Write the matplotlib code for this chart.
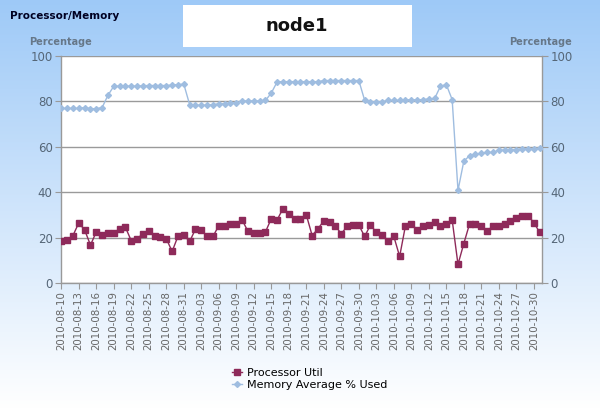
import numpy as np
import pandas as pd
import matplotlib
matplotlib.use("Agg")
import matplotlib.pyplot as plt
from matplotlib.patches import Rectangle
from matplotlib.lines import Line2D

dates = pd.date_range("2010-08-10", "2010-10-31", freq="D")

processor_util = [
    18.3, 19.0, 20.9, 26.5, 23.4, 16.7, 22.5, 21.2, 22.1, 22.1,
    23.9, 24.5, 18.6, 19.5, 21.7, 22.8, 20.9, 20.1, 19.5, 13.9,
    20.6, 21.2, 18.3, 23.7, 23.4, 20.5, 20.5, 25.3, 24.9, 25.8,
    25.8, 27.8, 22.7, 22.0, 22.0, 22.5, 28.4, 27.8, 32.8, 30.5,
    28.4, 28.4, 30.0, 20.9, 23.9, 27.4, 26.9, 24.9, 21.8, 24.9,
    25.5, 25.5, 20.5, 25.6, 22.3, 21.2, 18.6, 20.5, 11.7, 25.3,
    26.1, 23.4, 24.9, 25.5, 26.8, 24.9, 25.8, 27.8, 8.2, 17.4,
    26.2, 26.2, 25.3, 22.7, 25.3, 25.3, 26.1, 27.5, 28.6, 29.7,
    29.7, 26.6, 22.3,
]

memory_used = [
    76.9, 76.9, 76.9, 76.9, 77.3, 76.8, 76.8, 77.3, 82.7, 86.7,
    86.7, 86.7, 86.7, 86.7, 86.9, 87.0, 87.0, 87.0, 87.0, 87.2,
    87.4, 87.6, 78.6, 78.3, 78.3, 78.3, 78.6, 78.9, 79.0, 79.2,
    79.4, 80.1, 80.2, 80.2, 80.2, 80.4, 83.7, 88.6, 88.7, 88.7,
    88.7, 88.7, 88.7, 88.7, 88.7, 89.2, 89.2, 89.2, 89.2, 89.2,
    89.2, 89.2, 80.5, 79.9, 79.8, 79.9, 80.4, 80.4, 80.4, 80.7,
    80.7, 80.7, 80.8, 81.1, 81.3, 86.7, 87.4, 80.8, 40.8, 53.7,
    56.1, 56.7, 57.1, 57.5, 57.5, 58.6, 58.5, 58.7, 58.8, 59.2,
    59.2, 59.2, 59.3,
]

tick_dates = pd.date_range("2010-08-10", "2010-10-30", freq="3D")
tick_labels = [d.strftime("%Y-%m-%d") for d in tick_dates]
y_ticks = [0, 20, 40, 60, 80, 100]

W, H = 600, 409
fig = plt.figure(figsize=(W / 100, H / 100), dpi=100)

# background gradient
bg = fig.add_axes([0, 0, 1, 1], zorder=-10)
grad = np.linspace(0, 1, 256)[:, None]
top = np.array([0.62, 0.79, 0.97])
bot = np.array([1.0, 1.0, 1.0])
img = top[None, None, :] * (1 - grad[..., None]) + bot[None, None, :] * grad[..., None]
img = np.repeat(img, 2, axis=1)
bg.imshow(img, aspect="auto", extent=[0, 1, 0, 1], origin="upper")
bg.set_xlim(0, 1)
bg.set_ylim(0, 1)
bg.axis("off")

# title box
fig.patches.append(Rectangle((183 / W, 1 - 47 / H), 229 / W, 42 / H,
                             transform=fig.transFigure, facecolor="white",
                             edgecolor="none", zorder=1))
fig.text(297 / W, 1 - 26 / H, "node1", ha="center", va="center",
         fontsize=13, fontweight="bold", color="#111111", zorder=2)
fig.text(10 / W, 1 - 16 / H, "Processor/Memory", ha="left", va="center",
         fontsize=7.5, fontweight="bold", color="#000022")
fig.text(61 / W, 1 - 42 / H, "Percentage", ha="center", va="center",
         fontsize=7, fontweight="bold", color="#667788")
fig.text(541 / W, 1 - 42 / H, "Percentage", ha="center", va="center",
         fontsize=7, fontweight="bold", color="#667788")

ax = fig.add_axes([61 / W, 1 - 283 / H, 481 / W, 227 / H])
ax.set_facecolor("white")

x = np.arange(len(dates))
ax.plot(x, memory_used, color="#9fbde0", lw=1.0, marker="D", markersize=3.0,
        markerfacecolor="#9fbde0", markeredgecolor="#9fbde0", zorder=3,
        label="Memory Average % Used")
ax.plot(x, processor_util, color="#8e2a5a", lw=1.0, marker="s", markersize=5.0,
        markerfacecolor="#8e2a5a", markeredgecolor="#8e2a5a", zorder=4,
        label="Processor Util")

start = dates[0]
tick_pos = [(d - start).days for d in tick_dates]
ax.set_xticks(tick_pos)
ax.set_xticklabels(tick_labels, rotation=90, fontsize=7.4, color="#666666")
ax.set_xlim(-0.05, 82.4)
ax.set_ylim(0, 100)
ax.set_yticks(y_ticks)
ax.set_yticklabels([str(v) for v in y_ticks], fontsize=8.5, color="#556677")
ax.tick_params(axis="y", left=True, right=True, labelleft=True, labelright=True,
               length=4, width=0.8, color="#999999", pad=2)
ax.tick_params(axis="x", length=4, width=0.8, color="#999999", pad=2)
ax.grid(axis="y", color="#9a9a9a", lw=1.0)
ax.set_axisbelow(True)
ax.spines["top"].set_visible(False)
for s in ["left", "right", "bottom"]:
    ax.spines[s].set_color("#999999")
    ax.spines[s].set_linewidth(1.0)

handles = [
    Line2D([], [], color="#8e2a5a", lw=1.0, marker="s", markersize=4.6),
    Line2D([], [], color="#9fbde0", lw=1.0, marker="D", markersize=3.0),
]
fig.legend(handles, ["Processor Util", "Memory Average % Used"],
           loc="center left", bbox_to_anchor=(226 / W, 1 - 379 / H),
           frameon=False, fontsize=8, handlelength=0.9, handletextpad=0.5,
           labelspacing=0.2, borderpad=0)

fig.savefig("out.png", dpi=100)
